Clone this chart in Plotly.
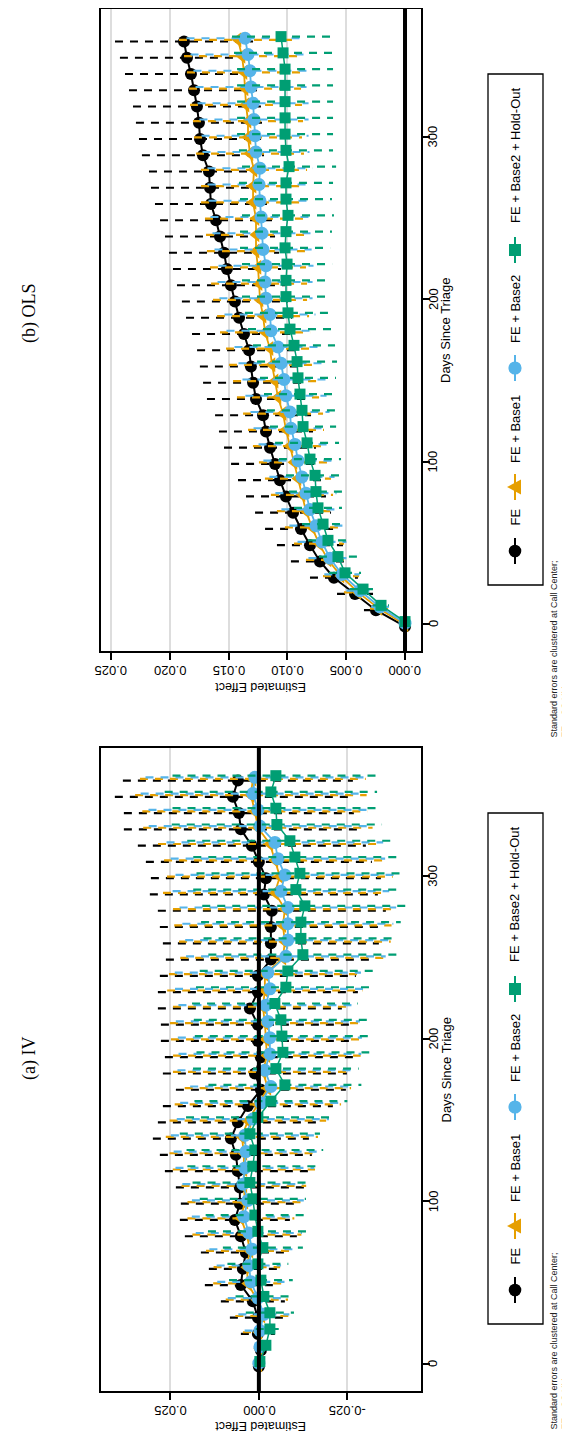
import plotly.graph_objects as go

W, H = 570, 1431

# ---------------- data ----------------
days = list(range(0, 361, 10))
series_names = ["FE", "FE + Base1", "FE + Base2", "FE + Base2 + Hold-Out"]
series_colors = ["#000000", "#E69F00", "#56B4E9", "#009E73"]
series_symbols = ["circle", "triangle-left", "circle", "square"]
dodge = [-1.5, -0.5, 0.5, 1.5]

# OLS estimates
ols_fe = [0, 0.00247, 0.00425, 0.00604, 0.00723, 0.00808, 0.00884, 0.00952, 0.01012, 0.01063,
          0.01105, 0.01148, 0.01182, 0.01207, 0.01267, 0.01292, 0.01310, 0.01326, 0.01369, 0.01411,
          0.01446, 0.01480, 0.01514, 0.01539, 0.01573, 0.01607, 0.01650, 0.01658, 0.01667, 0.01718,
          0.01743, 0.01752, 0.01769, 0.01794, 0.01820, 0.01854, 0.01879]
ols_b1 = [0, 0.00221, 0.00400, 0.00544, 0.00655, 0.00731, 0.00791, 0.00842, 0.00876, 0.00910,
          0.00944, 0.00978, 0.01012, 0.01037, 0.01080, 0.01105, 0.01131, 0.01148, 0.01190, 0.01207,
          0.01233, 0.01241, 0.01250, 0.01267, 0.01267, 0.01267, 0.01292, 0.01292, 0.01284, 0.01318,
          0.01335, 0.01335, 0.01352, 0.01360, 0.01369, 0.01386, 0.01420]
ols_b2 = [0, 0.00213, 0.00383, 0.00536, 0.00638, 0.00706, 0.00757, 0.00808, 0.00842, 0.00876,
          0.00910, 0.00935, 0.00969, 0.00978, 0.01012, 0.01029, 0.01054, 0.01080, 0.01139, 0.01148,
          0.01182, 0.01190, 0.01182, 0.01207, 0.01216, 0.01224, 0.01233, 0.01241, 0.01233, 0.01267,
          0.01275, 0.01284, 0.01292, 0.01309, 0.01318, 0.01335, 0.01360]
ols_ho = [0, 0.00204, 0.00357, 0.00510, 0.00570, 0.00655, 0.00697, 0.00740, 0.00757, 0.00765,
          0.00808, 0.00833, 0.00867, 0.00876, 0.00893, 0.00910, 0.00918, 0.00944, 0.00978, 0.00995,
          0.01012, 0.01012, 0.01003, 0.01020, 0.01012, 0.00995, 0.01012, 0.01012, 0.00986, 0.01012,
          0.01020, 0.01020, 0.01020, 0.01020, 0.01020, 0.01037, 0.01054]
# OLS CI half-widths
ols_fe_hw = [0, 0.00102, 0.00153, 0.00204, 0.00247, 0.00281, 0.00306, 0.00323, 0.00340, 0.00357,
             0.00374, 0.00391, 0.00400, 0.00408, 0.00417, 0.00425, 0.00434, 0.00442, 0.00442, 0.00451,
             0.00451, 0.00459, 0.00459, 0.00468, 0.00468, 0.00476, 0.00476, 0.00502, 0.00510, 0.00519,
             0.00519, 0.00536, 0.00544, 0.00553, 0.00561, 0.00570, 0.00587]
ols_b1_hw = [0, 0.00077, 0.00119, 0.00153, 0.00187, 0.00213, 0.00230, 0.00247, 0.00264, 0.00281,
             0.00298, 0.00315, 0.00323, 0.00340, 0.00349, 0.00357, 0.00366, 0.00374, 0.00383, 0.00391,
             0.00400, 0.00408, 0.00408, 0.00417, 0.00425, 0.00434, 0.00442, 0.00442, 0.00451, 0.00459,
             0.00459, 0.00468, 0.00476, 0.00476, 0.00485, 0.00493, 0.00502]
ols_b2_hw = [0, 0.00075, 0.00115, 0.00150, 0.00183, 0.00208, 0.00226, 0.00243, 0.00260, 0.00277,
             0.00294, 0.00310, 0.00319, 0.00336, 0.00345, 0.00353, 0.00362, 0.00370, 0.00379, 0.00387,
             0.00396, 0.00404, 0.00404, 0.00413, 0.00421, 0.00430, 0.00438, 0.00438, 0.00447, 0.00455,
             0.00455, 0.00464, 0.00472, 0.00472, 0.00481, 0.00489, 0.00498]
ols_ho_hw = [0, 0.00068, 0.00111, 0.00136, 0.00162, 0.00170, 0.00179, 0.00204, 0.00230, 0.00247,
             0.00264, 0.00272, 0.00281, 0.00298, 0.00306, 0.00323, 0.00340, 0.00349, 0.00357, 0.00366,
             0.00374, 0.00374, 0.00383, 0.00383, 0.00391, 0.00391, 0.00391, 0.00400, 0.00400, 0.00400,
             0.00408, 0.00408, 0.00408, 0.00408, 0.00408, 0.00417, 0.00417]

# IV estimates
iv_fe = [0, -0.00057, 0.00028, 0.00028, 0.00170, 0.00509, 0.00452, 0.00367, 0.00509, 0.00678,
         0.00537, 0.00537, 0.00593, 0.00650, 0.00791, 0.00593, 0.00311, -0.00057, 0.00113, -0.00057,
         0.00028, 0.00028, 0.00254, 0.00028, 0.00028, -0.00339, -0.00339, -0.00339, -0.00367, -0.00141,
         -0.00198, 0, 0.00198, 0.00509, 0.00565, 0.00735, 0.00593]
iv_b1 = [0, -0.00028, 0, -0.00085, 0.00057, 0.00311, 0.00339, 0.00254, 0.00339, 0.00509,
         0.00396, 0.00424, 0.00424, 0.00424, 0.00480, 0.00311, 0.00028, -0.00254, -0.00113, -0.00226,
         -0.00198, -0.00170, -0.00113, -0.00170, -0.00170, -0.00678, -0.00735, -0.00678, -0.00735, -0.00452,
         -0.00593, -0.00452, -0.00311, 0.00028, 0.00113, 0.00226, 0.00170]
iv_b2 = [0, -0.00028, -0.00028, -0.00141, 0.00028, 0.00226, 0.00283, 0.00198, 0.00283, 0.00424,
         0.00311, 0.00452, 0.00396, 0.00367, 0.00396, 0.00170, -0.00057, -0.00339, -0.00170, -0.00311,
         -0.00311, -0.00254, -0.00198, -0.00311, -0.00254, -0.00763, -0.00819, -0.00819, -0.00819, -0.00622,
         -0.00735, -0.00537, -0.00452, -0.00028, 0.00028, 0.00170, 0.00113]
iv_ho = [-0.00028, -0.00198, -0.00311, -0.00311, -0.00141, -0.00057, 0.00028, -0.00113, 0.00028, 0.00113,
         0.00170, 0.00254, 0.00170, 0.00113, 0.00254, 0.00028, -0.00339, -0.00735, -0.00480, -0.00678,
         -0.00650, -0.00622, -0.00452, -0.00763, -0.00819, -0.01243, -0.01187, -0.01187, -0.01300, -0.01045,
         -0.01158, -0.01017, -0.00876, -0.00509, -0.00480, -0.00339, -0.00480]
# IV CI half-widths
iv_fe_hw = [0.00057, 0.00170, 0.00480, 0.00791, 0.00904, 0.01017, 0.00961, 0.01271, 0.01582, 0.01554,
            0.01667, 0.01808, 0.02062, 0.02147, 0.02204, 0.02260, 0.02401, 0.02401, 0.02599, 0.02712,
            0.02740, 0.02740, 0.02599, 0.02825, 0.02769, 0.02966, 0.03051, 0.03136, 0.03221, 0.03221,
            0.03249, 0.03192, 0.03221, 0.03305, 0.03249, 0.03334, 0.03249]
iv_b1_hw = [0.0005, 0.0015, 0.0045, 0.0075, 0.0088, 0.0098, 0.0094, 0.0124, 0.0154, 0.0151,
            0.0162, 0.0176, 0.0201, 0.0210, 0.0215, 0.0221, 0.0235, 0.0235, 0.0254, 0.0265,
            0.0268, 0.0268, 0.0254, 0.0276, 0.0271, 0.0290, 0.0299, 0.0307, 0.0316, 0.0316,
            0.0319, 0.0313, 0.0316, 0.0324, 0.0318, 0.0327, 0.0319]
iv_b2_hw = [0.0005, 0.0014, 0.0043, 0.0072, 0.0085, 0.0095, 0.0091, 0.0120, 0.0150, 0.0147,
            0.0158, 0.0171, 0.0196, 0.0204, 0.0209, 0.0215, 0.0228, 0.0228, 0.0247, 0.0258,
            0.0260, 0.0260, 0.0247, 0.0268, 0.0263, 0.0282, 0.0290, 0.0298, 0.0306, 0.0306,
            0.0309, 0.0303, 0.0306, 0.0314, 0.0309, 0.0317, 0.0309]
iv_ho_hw = [0.0005, 0.0013, 0.0040, 0.0068, 0.0080, 0.0090, 0.0086, 0.0113, 0.0141, 0.0139,
            0.0150, 0.0162, 0.0185, 0.0193, 0.0198, 0.0203, 0.0216, 0.0216, 0.0234, 0.0244,
            0.0246, 0.0246, 0.0234, 0.0254, 0.0249, 0.0267, 0.0275, 0.0282, 0.0290, 0.0290,
            0.0292, 0.0287, 0.0290, 0.0297, 0.0292, 0.0300, 0.0292]

ols_ticks = [0.000, 0.005, 0.010, 0.015, 0.020, 0.025]
ols_ticklabels = ["0.000", "0.005", "0.010", "0.015", "0.020", "0.025"]
iv_ticks = [-0.025, 0.000, 0.025]
iv_ticklabels = ["-0.025", "0.000", "0.025"]
day_ticks = [0, 100, 200, 300]
day_ticklabels = ["0", "100", "200", "300"]

note_lines = ["Standard errors are clustered at Call Center;", "FE = CC-YM"]

# ---------------- layout helpers ----------------
def px(xp):
    return xp / W

def py(yp):
    return 1 - yp / H

SANS = "Liberation Sans, Arial, sans-serif"
SERIF = "Liberation Serif, Times New Roman, serif"

fig = go.Figure()

panels = [
    dict(name="(b) OLS", xa="x", ya="y", est=[ols_fe, ols_b1, ols_b2, ols_ho],
         hw=[ols_fe_hw, ols_b1_hw, ols_b2_hw, ols_ho_hw], ticks=ols_ticks, ticklabels=ols_ticklabels,
         xrange=[0.02585, -0.00136], top=1, bottom=643, title_y=305, note_start=731),
    dict(name="(a) IV", xa="x2", ya="y2", est=[iv_fe, iv_b1, iv_b2, iv_ho],
         hw=[iv_fe_hw, iv_b1_hw, iv_b2_hw, iv_ho_hw], ticks=iv_ticks, ticklabels=iv_ticklabels,
         xrange=[0.0446, -0.0458], top=740, bottom=1383, title_y=1050, note_start=1423),
]

marker_sizes = [12, 13, 13, 11]
line_widths = [2, 1.8, 1.8, 1.5]

annotations = []
shapes = []

for p in panels:
    for i in range(4):
        est = p["est"][i]
        hw = p["hw"][i]
        dd = [d + dodge[i] for d in days]
        ex, ey = [], []
        for e, h, d in zip(est, hw, dd):
            ex += [e + h, e - h, None]
            ey += [d, d, None]
        fig.add_trace(go.Scatter(x=ex, y=ey, xaxis=p["xa"], yaxis=p["ya"], mode="lines",
                                 line=dict(color=series_colors[i], width=2.2, dash="8px,7px"),
                                 showlegend=False, hoverinfo="skip"))
        fig.add_trace(go.Scatter(x=est, y=dd, xaxis=p["xa"], yaxis=p["ya"], mode="lines+markers",
                                 line=dict(color=series_colors[i], width=line_widths[i]),
                                 marker=dict(symbol=series_symbols[i], size=marker_sizes[i],
                                             color=series_colors[i], line=dict(width=0)),
                                 name=series_names[i], showlegend=False))
    # zero line
    shapes.append(dict(type="line", xref=p["xa"], yref=p["ya"] + " domain", x0=0, x1=0, y0=0, y1=1,
                       line=dict(color="black", width=4), layer="above"))
    # effect tick labels (upside down)
    lab_y = p["bottom"] + 20
    for v, t in zip(p["ticks"], p["ticklabels"]):
        annotations.append(dict(x=v, y=py(lab_y), xref=p["xa"], yref="paper", text=t, showarrow=False,
                                textangle=180, xanchor="center", yanchor="middle", borderpad=0,
                                font=dict(family=SANS, size=13, color="black")))
    # day tick labels
    for v, t in zip(day_ticks, day_ticklabels):
        annotations.append(dict(x=px(425), y=v, xref="paper", yref=p["ya"], text=t, showarrow=False,
                                textangle=-90, xanchor="center", yanchor="middle",
                                font=dict(family=SANS, size=13, color="black")))
    mid = (p["top"] + p["bottom"]) / 2
    annotations.append(dict(x=px(253), y=py(min(p["bottom"] + 36, 1418)), xref="paper", yref="paper",
                            text="Estimated Effect", showarrow=False, textangle=180,
                            xanchor="center", yanchor="middle", borderpad=0,
                            font=dict(family=SANS, size=12.5, color="black")))
    annotations.append(dict(x=px(438), y=py(mid), xref="paper", yref="paper",
                            text="Days Since Triage", showarrow=False, textangle=-90,
                            xanchor="center", yanchor="middle",
                            font=dict(family=SANS, size=13, color="black")))
    # panel title
    annotations.append(dict(x=px(21), y=py(p["title_y"]), xref="paper", yref="paper",
                            text=p["name"], showarrow=False, textangle=-90,
                            xanchor="center", yanchor="middle",
                            font=dict(family=SERIF, size=18, color="black")))
    # legend
    off = p["top"] - 1
    shapes.append(dict(type="rect", xref="paper", yref="paper", x0=px(480), x1=px(535),
                       y0=py(66 + off), y1=py(577 + off), line=dict(color="black", width=1.3),
                       fillcolor="rgba(0,0,0,0)"))
    key_y = [543, 479, 360, 242]
    text_start = [520, 457, 337, 217]
    kx = 507
    for i in range(4):
        ky = key_y[i] + off
        col = series_colors[i]
        shapes.append(dict(type="line", xref="paper", yref="paper", x0=px(kx), x1=px(kx),
                           y0=py(ky - 13), y1=py(ky + 13), line=dict(color=col, width=2)))
        if series_symbols[i] == "circle":
            r = 6.3 if i == 0 else 6.6
            shapes.append(dict(type="circle", xref="paper", yref="paper", x0=px(kx - r), x1=px(kx + r),
                               y0=py(ky - r), y1=py(ky + r), fillcolor=col, line=dict(width=0)))
        elif series_symbols[i] == "square":
            r = 6
            shapes.append(dict(type="rect", xref="paper", yref="paper", x0=px(kx - r), x1=px(kx + r),
                               y0=py(ky - r), y1=py(ky + r), fillcolor=col, line=dict(width=0)))
        else:
            tri = "M {} {} L {} {} L {} {} Z".format(px(kx - 8), py(ky), px(kx + 6), py(ky - 7.5),
                                                     px(kx + 6), py(ky + 7.5))
            shapes.append(dict(type="path", xref="paper", yref="paper", path=tri,
                               fillcolor=col, line=dict(width=0)))
        annotations.append(dict(x=px(kx), y=py(text_start[i] + off), xref="paper", yref="paper",
                                text=series_names[i], showarrow=False, textangle=-90,
                                xanchor="center", yanchor="bottom",
                                font=dict(family=SANS, size=13, color="black")))
    # note (two lines, left-aligned -> common start at the bottom)
    for j, (line_txt, nx) in enumerate(zip(note_lines, [545, 556])):
        annotations.append(dict(x=px(nx), y=py(p["note_start"]), xref="paper", yref="paper",
                                text=line_txt, showarrow=False, textangle=-90,
                                xanchor="center", yanchor="bottom", borderpad=0,
                                font=dict(family=SANS, size=9, color="#222222")))

xdom = [93 / W, 413 / W]
common_x = dict(domain=xdom, showline=True, mirror=True, linecolor="black", linewidth=1.5,
                ticks="outside", ticklen=7, tickwidth=1.5, tickcolor="black",
                showticklabels=False, showgrid=True, gridcolor="#DDDDDD", gridwidth=1.5,
                zeroline=False)
common_y = dict(showline=True, mirror=True, linecolor="black", linewidth=1.5, side="right",
                ticks="outside", ticklen=7, tickwidth=1.5, tickcolor="black",
                showticklabels=False, showgrid=False, zeroline=False,
                tickvals=day_ticks, range=[-16.6, 378.5])

fig.update_layout(
    width=W, height=H, margin=dict(l=0, r=0, t=0, b=0),
    paper_bgcolor="white", plot_bgcolor="white", showlegend=False,
    xaxis=dict(common_x, range=panels[0]["xrange"], tickvals=ols_ticks, anchor="y"),
    yaxis=dict(common_y, domain=[1 - 643 / H, 1 - 1 / H], anchor="x"),
    xaxis2=dict(common_x, range=panels[1]["xrange"], tickvals=iv_ticks, anchor="y2"),
    yaxis2=dict(common_y, domain=[1 - 1383 / H, 1 - 740 / H], anchor="x2"),
    annotations=annotations, shapes=shapes,
)

fig.write_html("out.html")
